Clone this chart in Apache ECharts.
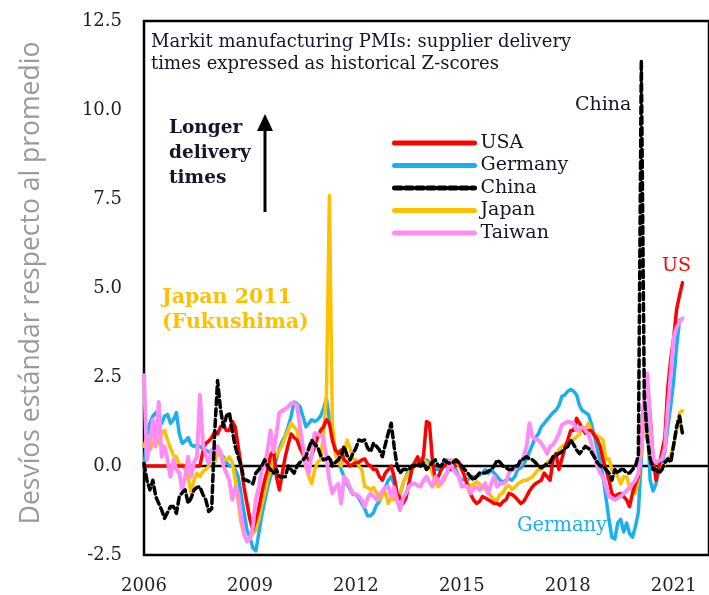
<!DOCTYPE html>
<html>
<head>
<meta charset="utf-8">
<script src="https://cdn.jsdelivr.net/npm/echarts@6/dist/echarts.min.js"></script>
<style>
html,body{margin:0;padding:0;background:#fff;}
#c{width:709px;height:595px;}
</style>
</head>
<body>
<div id="c"></div>
<script>
// Monthly z-scores, Jan 2006 onward
var startYear = 2006;
var xTicks = [2006, 2009, 2012, 2015, 2018, 2021];
var yTicks = [-2.5, 0, 2.5, 5, 7.5, 10, 12.5];
var legendNames = ['USA', 'Germany', 'China', 'Japan', 'Taiwan'];

var usa = [
 0,0,0,0,0,0,0,0,0,0,0,0,
 0,0,0,0,0,0,0,0,0.4,0.64,0.7,0.8,
 0.95,0.9,1.1,1.15,1.0,1.0,1.25,1.1,0.55,0.0,-0.6,-1.05,
 -1.5,-1.8,-1.5,-1.2,-0.77,-0.4,-0.1,0.3,0.45,-0.3,-0.67,-0.2,
 0.26,0.6,0.9,0.8,0.73,0.5,0.35,0.25,0.17,0.3,0.55,0.8,
 1.0,1.1,1.3,1.2,0.73,0.45,0.35,0.45,0.17,0.1,0.0,0.05,
 0.1,0.1,0.17,0.2,0.05,0.0,-0.1,-0.1,-0.3,-0.4,-0.2,-0.1,
 0.0,-0.3,-0.77,-0.9,-1.05,-0.9,-0.5,-0.1,0.1,0.26,0.0,0.3,
 1.25,1.2,0.17,-0.4,-0.3,-0.1,0.0,0.07,-0.1,-0.1,0.17,0.1,
 -0.1,-0.3,-0.58,-0.8,-0.95,-1.05,-1.0,-0.86,-0.9,-0.95,-1.0,-1.05,
 -1.05,-1.1,-1.0,-0.95,-0.77,-0.8,-0.86,-0.95,-1.05,-1.0,-0.86,-0.7,
 -0.58,-0.5,-0.45,-0.4,-0.2,-0.3,-0.4,0.17,0.35,-0.1,0.2,0.5,
 0.73,1.0,1.0,1.34,1.2,1.05,0.92,1.0,1.0,0.87,0.75,0.55,
 0.17,-0.1,-0.4,-0.77,-0.86,-0.8,-0.77,-0.86,-0.95,-1.14,-0.77,-0.5,
 -0.3,0.8,1.9,2.4,1.4,0.2,-0.4,0.0,0.4,0.8,2.2,3.0,
 3.6,4.4,4.8,5.15
];

var germany = [
 -0.1,0.9,1.2,1.4,1.5,1.3,1.2,1.4,1.45,1.2,1.3,1.5,
 0.9,0.64,0.7,0.8,0.6,0.55,0.6,0.55,0.5,0.45,0.4,0.35,
 0.4,0.35,0.3,0.26,0.1,0.0,0.0,-0.1,-0.3,-0.8,-1.3,-1.8,
 -2.0,-2.3,-2.38,-1.9,-1.4,-1.0,-0.6,-0.3,-0.1,0.2,0.5,0.7,
 0.85,1.1,1.4,1.8,1.75,1.67,1.4,1.1,1.2,1.3,1.25,1.3,
 1.4,1.6,1.9,1.3,0.85,0.5,0.2,-0.1,-0.3,-0.5,-0.65,-0.8,
 -0.8,-0.9,-1.05,-1.2,-1.4,-1.4,-1.3,-1.1,-1.0,-0.8,-0.6,-0.4,
 -0.3,-0.5,-0.95,-0.8,-0.5,-0.3,-0.1,0.0,0.1,0.17,0.2,0.17,
 0.17,0.1,0.0,-0.1,-0.1,0.0,0.1,0.17,0.1,0.0,-0.1,-0.3,
 -0.4,-0.35,-0.4,-0.3,-0.3,-0.3,-0.25,-0.2,-0.1,-0.2,-0.1,-0.2,
 -0.3,-0.4,-0.45,-0.4,-0.35,-0.4,-0.3,-0.1,-0.05,0.05,0.2,0.4,
 0.6,0.8,0.9,1.1,1.2,1.3,1.4,1.5,1.57,1.7,1.95,2.0,
 2.1,2.15,2.1,2.0,1.7,1.55,1.5,1.45,1.2,0.85,0.5,0.1,
 -0.3,-0.9,-1.5,-2.0,-2.05,-1.6,-1.5,-1.85,-1.6,-1.9,-2.0,-1.7,
 -1.3,0.2,1.6,1.5,-0.4,-0.7,-0.5,-0.1,0.1,0.4,1.1,1.7,
 2.4,3.35,4.1
];

var china = [
 0.07,-0.4,-0.67,-0.4,-0.86,-1.05,-1.24,-1.47,-1.3,-1.14,-1.14,-1.33,
 -0.86,-0.75,-0.67,-1.05,-0.9,-0.67,-0.6,-0.58,-0.8,-0.95,-1.28,-1.2,
 0.9,2.4,1.6,1.1,1.4,1.5,1.0,0.55,0.26,0.0,-0.4,-0.4,
 -0.45,-0.5,-0.2,-0.1,0.0,0.17,0.0,-0.1,-0.2,-0.1,-0.3,-0.3,
 -0.3,0.0,-0.1,-0.2,0.0,0.1,0.17,0.26,0.5,0.73,0.6,0.55,
 0.3,0.17,0.2,0.26,0.0,0.1,0.17,0.3,0.55,0.3,0.17,0.35,
 0.5,0.73,0.7,0.73,0.5,0.4,0.64,0.55,0.45,0.26,0.6,0.92,
 1.2,0.55,0.0,-0.2,-0.1,-0.1,-0.1,0.0,0.0,0.07,0.0,0.1,
 -0.1,0.0,0.1,0.17,0.0,0.0,0.17,0.1,0.07,0.1,0.17,0.1,
 0.0,-0.1,-0.2,-0.3,-0.4,-0.3,-0.2,-0.2,-0.2,-0.15,-0.1,0.0,
 0.17,0.1,0.0,-0.05,-0.1,-0.1,0.0,0.0,0.17,0.2,0.26,0.2,
 0.17,0.1,0.0,-0.05,0.0,0.07,0.1,0.26,0.3,0.35,0.4,0.5,
 0.55,0.73,0.6,0.45,0.35,0.45,0.55,0.5,0.4,0.26,0.1,0.0,
 0.0,-0.1,-0.2,-0.4,-0.1,-0.2,-0.1,-0.1,-0.2,-0.2,-0.1,0.0,
 0.3,11.4,2.0,0.8,0.2,-0.1,-0.1,-0.2,-0.1,0.1,0.2,0.1,
 0.6,1.1,1.4,0.9
];

var japan = [
 0.55,0.82,0.45,0.6,0.8,0.65,0.92,1.0,0.73,0.5,0.3,0.26,
 0.0,0.05,-0.1,-0.3,-0.77,-0.4,-0.2,-0.3,-0.15,-0.1,0.0,0.1,
 0.1,0.35,0.3,0.2,0.17,0.26,0.1,-0.4,-1.0,-1.6,-1.95,-2.08,
 -2.0,-1.9,-1.8,-1.5,-1.1,-0.77,-0.4,-0.1,0.17,0.3,0.45,0.6,
 0.82,1.0,1.2,1.1,1.0,0.55,0.3,0.0,-0.3,-0.5,-0.1,0.1,
 0.17,0.9,2.0,7.6,1.2,0.35,0.1,0.0,0.35,0.73,0.5,0.2,
 0.17,0.0,-0.1,-0.58,-0.6,-0.67,-0.6,-0.75,-0.95,-0.8,-0.75,-1.05,
 -0.9,-0.95,-0.8,-0.75,-0.5,-0.3,-0.2,-0.1,0.0,0.1,0.17,0.17,
 0.1,0.0,-0.2,-0.45,-0.58,-0.5,-0.4,-0.2,0.1,0.17,0.1,0.0,
 -0.1,-0.3,-0.5,-0.58,-0.5,-0.45,-0.5,-0.6,-0.65,-0.75,-0.85,-0.95,
 -0.95,-0.8,-0.75,-0.6,-0.55,-0.65,-0.6,-0.5,-0.45,-0.4,-0.4,-0.35,
 -0.3,-0.2,-0.1,-0.1,0.0,0.1,0.17,0.26,0.3,0.45,0.55,0.6,
 0.65,0.7,0.75,0.82,0.9,1.1,1.05,1.2,1.0,0.9,0.85,0.8,
 0.73,0.17,0.2,-0.1,-0.2,-0.3,-0.5,-0.3,-0.3,-0.58,-0.7,-0.77,
 -0.4,0.4,1.3,0.9,0.4,0.0,-0.1,-0.2,0.0,0.05,0.2,0.3,
 0.6,1.0,1.5,1.55
];

var taiwan = [
 2.55,0.17,0.64,1.3,0.55,1.8,0.26,0.55,0.17,-0.3,0.17,-0.1,
 -0.2,-0.67,-0.3,0.26,-0.3,0.1,0.26,2.0,0.64,0.3,0.07,0.45,
 0.3,0.55,0.4,0.0,-0.2,-0.4,-0.95,-0.6,-0.77,-1.4,-1.9,-2.12,
 -2.05,-1.7,-0.95,-0.6,-0.1,0.0,0.45,1.0,0.4,0.9,1.5,1.55,
 1.6,1.67,1.76,1.77,1.7,1.1,0.55,0.0,-0.2,0.35,0.92,0.9,
 0.85,0.8,0.2,-0.4,-0.77,-0.6,-0.5,-1.05,-0.3,-0.4,-0.6,-0.77,
 -0.8,-0.85,-0.95,-1.14,-0.9,-0.77,-0.85,-0.95,-0.8,-0.7,-0.6,-0.58,
 -0.86,-0.6,-0.95,-1.24,-0.9,-0.77,-0.58,-0.5,-0.49,-0.55,-0.58,-0.4,
 -0.3,-0.45,-0.58,-0.3,-0.4,-0.49,-0.3,-0.2,0.17,-0.1,-0.2,-0.3,
 -0.58,-0.55,-0.58,-0.77,-0.65,-0.58,-0.67,-0.6,-0.49,-0.77,-0.5,-0.3,
 -0.58,-0.5,-0.49,-0.45,-0.2,-0.1,-0.1,0.0,0.07,0.26,0.55,1.2,
 0.82,0.75,0.73,0.64,0.5,0.35,0.55,0.6,0.73,0.9,1.15,1.2,
 1.25,1.22,1.2,1.0,1.05,1.1,1.0,0.9,0.64,0.3,0.0,-0.2,
 -0.3,-0.58,-0.86,-0.9,-0.95,-0.9,-0.85,-0.77,-0.7,-0.58,-0.5,-0.4,
 -0.2,0.6,2.0,2.6,1.2,0.2,0.1,0.15,0.2,0.5,1.6,2.6,
 3.6,3.9,4.05,4.15
];

var zeroLine = [[2006, 0], [2022, 0]];

function toPairs(arr) {
  return arr.map(function (v, i) { return [startYear + i / 12, v]; });
}

var SERIF = "'DejaVu Serif', 'Liberation Serif', serif";
var INK = '#15152b';

var chart = echarts.init(document.getElementById('c'), null, {renderer: 'canvas'});

function lineSeries(name, arr, color, width, type, z) {
  return {
    name: name, type: 'line', data: toPairs(arr), symbol: 'none', smooth: false,
    lineStyle: {color: color, width: width, type: type || 'solid', cap: 'round', join: 'round'},
    itemStyle: {color: color}, z: z, animation: false
  };
}

var option = {
  animation: false,
  backgroundColor: '#fff',
  grid: {left: 144, top: 21, width: 568, height: 534, show: true, borderColor: '#000', borderWidth: 2.5, backgroundColor: 'transparent'},
  xAxis: {
    type: 'value', min: 2006, max: 2022, interval: 3,
    axisLine: {show: false}, axisTick: {show: false}, splitLine: {show: false},
    axisLabel: {
      color: '#222', fontFamily: SERIF, fontSize: 18, margin: 22, showMaxLabel: false,
      formatter: function (v) { return xTicks.indexOf(v) >= 0 ? String(v) : ''; }
    }
  },
  yAxis: {
    type: 'value', min: -2.5, max: 12.5, interval: 2.5,
    axisLine: {show: false}, axisTick: {show: false}, splitLine: {show: false},
    axisLabel: {
      color: '#222', fontFamily: SERIF, fontSize: 18, margin: 22, padding: [4, 0, 0, 0],
      formatter: function (v) { return yTicks.indexOf(v) >= 0 ? v.toFixed(1) : ''; }
    }
  },
  legend: {
    data: legendNames, orient: 'vertical', left: 392, top: 132, padding: 0,
    itemWidth: 80, itemHeight: 14, itemGap: 0.5,
    lineStyle: {width: 5},
    itemStyle: {opacity: 0, color: 'rgba(0,0,0,0)', borderWidth: 0},
    textStyle: {color: INK, fontFamily: SERIF, fontSize: 19, lineHeight: 22, padding: [0, 0, 0, 1]},
    selectedMode: false
  },
  graphic: [
    {type: 'text', left: 151, top: 31, z: 10, style: {text: 'Markit manufacturing PMIs: supplier delivery\ntimes expressed as historical Z-scores', fill: INK, font: "18px 'DejaVu Serif'", lineHeight: 22}},
    {type: 'text', left: 169, top: 116, z: 10, style: {text: 'Longer\ndelivery\ntimes', fill: INK, font: "bold 18.5px 'DejaVu Serif'", lineHeight: 25}},
    {type: 'line', z: 10, shape: {x1: 265, y1: 212, x2: 265, y2: 126}, style: {stroke: '#000', lineWidth: 3}},
    {type: 'polygon', z: 10, shape: {points: [[265, 114], [257, 131], [273, 131]]}, style: {fill: '#000'}},
    {type: 'text', left: 575, top: 96, z: 10, style: {text: 'China', fill: INK, font: "19px 'DejaVu Serif'"}},
    {type: 'text', left: 662, top: 257, z: 10, style: {text: 'US', fill: '#ff0000', font: "19px 'DejaVu Serif'"}},
    {type: 'text', left: 517, top: 516, z: 10, style: {text: 'Germany', fill: '#1ab0f0', font: "19.5px 'DejaVu Serif'"}},
    {type: 'text', left: 162, top: 285, z: 10, style: {text: 'Japan 2011\n(Fukushima)', fill: '#ffc000', font: "bold 20.5px 'DejaVu Serif'", lineHeight: 25}},
    {type: 'text', x: 31, y: 283, rotation: Math.PI / 2, z: 10, style: {text: 'Desvíos estándar respecto al promedio', fill: '#9a9a9a', font: "26.5px 'Open Sans'", align: 'center', verticalAlign: 'middle'}}
  ],
  series: [
    {name: 'zero', type: 'line', data: zeroLine, symbol: 'none', lineStyle: {color: '#000', width: 2.5}, z: 1, silent: true},
    lineSeries('Germany', germany, '#1ab0f0', 3.5, 'solid', 2),
    lineSeries('Japan', japan, '#ffc000', 3.5, 'solid', 3),
    lineSeries('USA', usa, '#ff0000', 3.5, 'solid', 4),
    lineSeries('Taiwan', taiwan, '#ff8cf5', 4, 'solid', 5),
    lineSeries('China', china, '#000000', 3.5, [7, 4], 6)
  ]
};
chart.setOption(option);
</script>
</body>
</html>
